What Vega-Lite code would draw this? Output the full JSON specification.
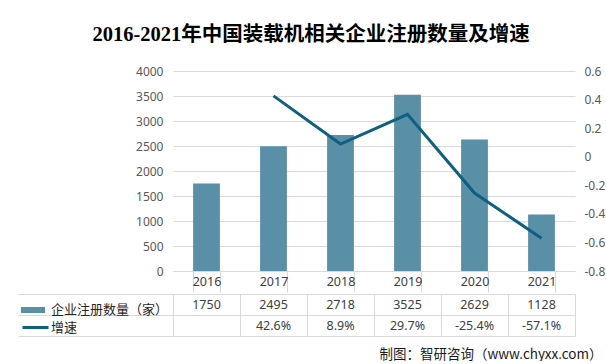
{
  "$schema": "https://vega.github.io/schema/vega-lite/v6.json",
  "padding": {"left": 17, "top": 24, "right": 0, "bottom": 0},
  "background": "white",
  "config": {
    "font": "Noto Sans, Noto Sans CJK SC",
    "view": {"stroke": null},
    "axis": {"labelFont": "Noto Sans, Noto Sans CJK SC"},
    "locale": {"number": {"decimal": ".", "thousands": ",", "grouping": [3], "currency": ["", ""], "minus": "-"}}
  },
  "title": {
    "text": "2016-2021年中国装载机相关企业注册数量及增速",
    "anchor": "middle",
    "font": "Liberation Serif, Noto Sans CJK SC",
    "fontSize": 20.5,
    "fontWeight": "bold",
    "color": "#000000",
    "offset": 20
  },
  "data": {
    "values": [
      {"year": "2016", "count": 1750, "growth": null},
      {"year": "2017", "count": 2495, "growth": 0.426},
      {"year": "2018", "count": 2718, "growth": 0.089},
      {"year": "2019", "count": 3525, "growth": 0.297},
      {"year": "2020", "count": 2629, "growth": -0.254},
      {"year": "2021", "count": 1128, "growth": -0.571}
    ]
  },
  "spacing": 0,
  "resolve": {"scale": {"color": "independent", "stroke": "independent"}, "legend": {"color": "independent", "stroke": "independent"}},
  "vconcat": [
    {
      "width": 402,
      "height": 200,
      "layer": [
        {
          "mark": {"type": "bar", "color": "#5A8FA8"},
          "encoding": {
            "x": {
              "field": "year", "type": "ordinal",
              "scale": {"type": "band", "paddingInner": 0.6, "paddingOuter": 0.3},
              "axis": {
                "title": null, "tickBand": "extent", "tickSize": 21, "tickColor": "#d9d9d9",
                "domainColor": "#d9d9d9", "labelPadding": -10.5, "labelBaseline": "middle",
                "labelAngle": 0, "labelColor": "#404040", "labelFontSize": 12.5, "grid": false
              }
            },
            "y": {
              "field": "count", "type": "quantitative",
              "scale": {"domain": [0, 4000]},
              "axis": {
                "values": [0, 500, 1000, 1500, 2000, 2500, 3000, 3500, 4000],
                "format": "d",
                "title": null, "domain": false, "ticks": false, "labelPadding": 10,
                "gridColor": "#d9d9d9", "labelColor": "#595959", "labelFontSize": 12
              }
            }
          }
        },
        {
          "mark": {"type": "line", "color": "#0F5F80", "strokeWidth": 3},
          "transform": [{"filter": "datum.growth != null"}],
          "encoding": {
            "x": {"field": "year", "type": "ordinal"},
            "y": {
              "field": "growth", "type": "quantitative",
              "scale": {"domain": [-0.8, 0.6], "nice": false, "zero": false},
              "axis": {
                "orient": "right",
                "values": [-0.8, -0.6, -0.4, -0.2, 0, 0.2, 0.4, 0.6],
                "labelExpr": "'' + datum.value",
                "title": null, "domain": false, "ticks": false, "grid": false,
                "labelPadding": 9, "labelColor": "#595959", "labelFontSize": 12
              }
            }
          }
        }
      ],
      "resolve": {"scale": {"y": "independent"}}
    },
    {
      "width": 402,
      "height": 42,
      "layer": [
        {
          "mark": {"type": "text", "fontSize": 12.5, "color": "#404040"},
          "encoding": {
            "x": {
              "field": "year", "type": "ordinal",
              "scale": {"type": "band", "paddingInner": 0, "paddingOuter": 0},
              "axis": {
                "grid": true, "gridColor": "#d9d9d9", "tickBand": "extent",
                "labels": false, "ticks": false, "domain": false,
                "title": "制图：智研咨询（www.chyxx.com）",
                "titleAnchor": "end", "titleAlign": "right", "titleX": 429, "titleY": 18,
                "titleBaseline": "middle", "titleFontSize": 13.5, "titleFontWeight": "normal",
                "titleFont": "Noto Sans CJK SC", "titleColor": "#1a1a1a"
              }
            },
            "y": {
              "datum": "count", "type": "nominal",
              "scale": {"type": "band", "domain": ["count", "growth"], "paddingInner": 0, "paddingOuter": 0},
              "axis": {
                "orient": "left", "offset": 155, "domain": false, "labels": false,
                "ticks": true, "tickBand": "extent", "tickSize": -155, "tickColor": "#d9d9d9",
                "grid": true, "gridColor": "#d9d9d9", "title": null
              }
            },
            "text": {"field": "count", "type": "quantitative", "format": "d"}
          }
        },
        {
          "mark": {"type": "text", "fontSize": 12.5, "color": "#404040"},
          "transform": [{"filter": "datum.growth != null"}],
          "encoding": {
            "x": {"field": "year", "type": "ordinal"},
            "y": {"datum": "growth", "type": "nominal"},
            "text": {"field": "growth", "type": "quantitative", "format": ".1%"}
          }
        },
        {
          "data": {"values": [{"s": "企业注册数量（家）"}]},
          "mark": {"type": "bar", "opacity": 0},
          "encoding": {
            "color": {
              "field": "s", "type": "nominal",
              "scale": {"domain": ["企业注册数量（家）"], "range": ["#5A8FA8"]},
              "legend": {
                "orient": "none", "legendX": -152, "legendY": 4, "title": null,
                "symbolType": "M-1,-0.25H1V0.25H-1Z", "symbolSize": 576, "symbolOpacity": 1,
                "symbolStrokeWidth": 0,
                "labelFontSize": 13, "labelColor": "#262626", "labelFont": "Noto Sans CJK SC",
                "labelOffset": 6, "padding": 0
              }
            }
          }
        },
        {
          "data": {"values": [{"s": "增速"}]},
          "mark": {"type": "line", "opacity": 0, "strokeWidth": 3},
          "encoding": {
            "stroke": {
              "field": "s", "type": "nominal",
              "scale": {"domain": ["增速"], "range": ["#0F5F80"]},
              "legend": {
                "orient": "none", "legendX": -152, "legendY": 19, "title": null,
                "symbolType": "stroke", "symbolSize": 676, "symbolOpacity": 1,
                "symbolStrokeWidth": 3,
                "labelFontSize": 13, "labelColor": "#262626", "labelFont": "Noto Sans CJK SC",
                "labelOffset": 1, "padding": 0
              }
            }
          }
        }
      ]
    }
  ]
}
